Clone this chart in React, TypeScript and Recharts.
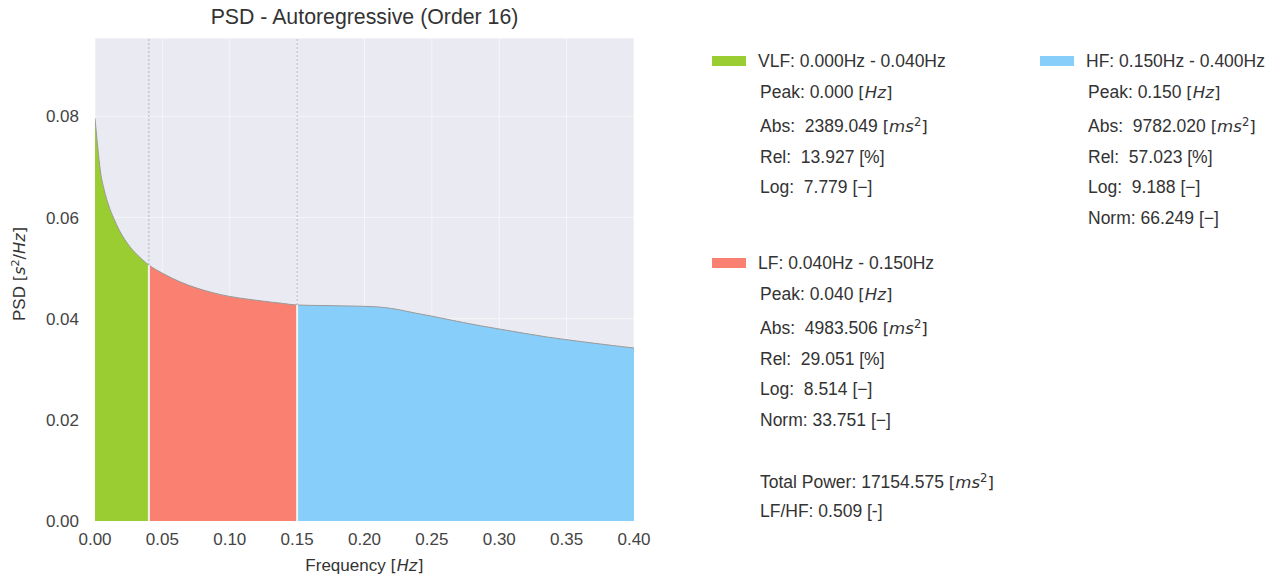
import React from 'react';
import { ComposedChart, Area, Line, XAxis, YAxis, CartesianGrid, ReferenceLine } from 'recharts';

const FONT = '"Liberation Sans", Arial, Helvetica, sans-serif';
const MATH_FONT = '"DejaVu Sans", sans-serif';

// Frequency grid [Hz] and PSD values [s^2/Hz]
const FREQS = [0, 0.002, 0.004, 0.007, 0.010, 0.014, 0.018, 0.022, 0.026, 0.030, 0.035, 0.040,
  0.050, 0.063, 0.075, 0.088, 0.100, 0.115, 0.130, 0.140, 0.150,
  0.170, 0.190, 0.205, 0.215, 0.225, 0.236, 0.250, 0.261, 0.286, 0.310, 0.335, 0.360, 0.384, 0.400];
const PSD = [0.0796, 0.0740, 0.0692, 0.0653, 0.0625, 0.0598, 0.0575, 0.0557, 0.0542, 0.0530, 0.0517, 0.0506,
  0.0490, 0.0473, 0.0461, 0.0451, 0.0444, 0.0438, 0.0433, 0.0430, 0.0427,
  0.0426, 0.0425, 0.0424, 0.0422, 0.0418, 0.0412, 0.0405, 0.0399, 0.0386, 0.0375, 0.0364, 0.0355, 0.0347, 0.0342];

const BAND_EDGES = [0, 0.04, 0.15, 0.4];
const X_TICKS = [0, 0.05, 0.1, 0.15, 0.2, 0.25, 0.3, 0.35, 0.4];
const Y_TICKS = [0, 0.02, 0.04, 0.06, 0.08];
const Y_MAX = 0.0955;

const BAND_NAMES = ['VLF', 'LF', 'HF'];
const BAND_COLORS = ['#9ACD32', '#FA8072', '#87CEFA'];
const BAND_RANGES = ['0.000Hz - 0.040Hz', '0.040Hz - 0.150Hz', '0.150Hz - 0.400Hz'];
const PEAKS = ['0.000', '0.040', '0.150'];
const ABS_POWER = ['2389.049', '4983.506', '9782.020'];
const REL_POWER = ['13.927', '29.051', '57.023'];
const LOG_POWER = ['7.779', '8.514', '9.188'];
const NORM_POWER = [null, '33.751', '66.249'];
const TOTAL_POWER = '17154.575';
const LF_HF = '0.509';

const rows = FREQS.map((f, i) => ({
  f,
  psd: PSD[i],
  vlf: f <= BAND_EDGES[1] + 1e-9 ? PSD[i] : null,
  lf: f >= BAND_EDGES[1] - 1e-9 && f <= BAND_EDGES[2] + 1e-9 ? PSD[i] : null,
  hf: f >= BAND_EDGES[2] - 1e-9 ? PSD[i] : null,
}));

const psdAt = (f: number) => PSD[FREQS.findIndex((v) => Math.abs(v - f) < 1e-9)];

const textColor = '#333';
const tickStyle = { fill: '#444', fontSize: 17, fontFamily: FONT };

const supStyle: React.CSSProperties = { fontSize: '0.7em', verticalAlign: '0.55em', lineHeight: 0 };
const Ms2 = () => (
  <span style={{ fontFamily: MATH_FONT, fontSize: '0.95em' }}>[<i>ms</i><sup style={supStyle}>2</sup>]</span>
);
const HzI = () => <span style={{ fontFamily: MATH_FONT, fontSize: '0.95em' }}>[<i>Hz</i>]</span>;

function Txt({ x, y, children, size = 17.5 }: { x: number; y: number; children: React.ReactNode; size?: number }) {
  return (
    <div style={{ position: 'absolute', left: x, top: y - 11, height: 22, lineHeight: '22px', fontSize: size, color: textColor, whiteSpace: 'pre', fontFamily: FONT }}>
      {children}
    </div>
  );
}

function BandLegend({ idx, x, y }: { idx: number; x: number; y: number }) {
  const tx = x + 46;
  const lines: React.ReactNode[] = [
    <>Peak: {PEAKS[idx]} <HzI /></>,
    <>Abs:  {ABS_POWER[idx]} <Ms2 /></>,
    <>Rel:  {REL_POWER[idx]} [%]</>,
    <>Log:  {LOG_POWER[idx]} [−]</>,
  ];
  if (NORM_POWER[idx]) lines.push(<>Norm: {NORM_POWER[idx]} [−]</>);
  const offsets = [31, 65, 96, 126, 157];
  return (
    <>
      <div style={{ position: 'absolute', left: x, top: y - 5, width: 34, height: 10, background: BAND_COLORS[idx] }} />
      <Txt x={tx} y={y}>{BAND_NAMES[idx]}: {BAND_RANGES[idx]}</Txt>
      {lines.map((l, i) => (
        <Txt key={i} x={tx + 2} y={y + offsets[i]}>{l}</Txt>
      ))}
    </>
  );
}

export default function App() {
  return (
    <div style={{ position: 'absolute', left: 0, top: 0, width: 1274, height: 582, background: '#fff', fontFamily: FONT }}>
      <ComposedChart width={1274} height={582} data={rows} margin={{ top: 38, right: 640, bottom: 21, left: 35 }}>
        <CartesianGrid fill="#EAEAF2" stroke="#ffffff" strokeOpacity={0.55} strokeWidth={1} />
        <XAxis dataKey="f" type="number" domain={[0, 0.4]} ticks={X_TICKS} tickFormatter={(v: number) => v.toFixed(2)}
          axisLine={false} tickLine={false} tickSize={0} tickMargin={12} height={40} tick={tickStyle} allowDataOverflow interval={0} />
        <YAxis type="number" domain={[0, Y_MAX]} ticks={Y_TICKS} tickFormatter={(v: number) => v.toFixed(2)}
          axisLine={false} tickLine={false} tickSize={0} tickMargin={16} width={60} tick={tickStyle} allowDataOverflow interval={0} />
        <Area dataKey="vlf" type="monotone" fill={BAND_COLORS[0]} fillOpacity={1} stroke="none" isAnimationActive={false} connectNulls={false} />
        <Area dataKey="lf" type="monotone" fill={BAND_COLORS[1]} fillOpacity={1} stroke="none" isAnimationActive={false} connectNulls={false} />
        <Area dataKey="hf" type="monotone" fill={BAND_COLORS[2]} fillOpacity={1} stroke="none" isAnimationActive={false} connectNulls={false} />
        <Line dataKey="psd" type="monotone" stroke="#9a9a9a" strokeWidth={1} dot={false} isAnimationActive={false} />
        <ReferenceLine segment={[{ x: BAND_EDGES[1], y: 0 }, { x: BAND_EDGES[1], y: psdAt(BAND_EDGES[1]) }]} stroke="#f4f4ee" strokeWidth={2} />
        <ReferenceLine segment={[{ x: BAND_EDGES[2], y: 0 }, { x: BAND_EDGES[2], y: psdAt(BAND_EDGES[2]) }]} stroke="#f4f4ee" strokeWidth={2} />
        <ReferenceLine segment={[{ x: BAND_EDGES[1], y: psdAt(BAND_EDGES[1]) }, { x: BAND_EDGES[1], y: Y_MAX }]} stroke="#aab4c8" strokeWidth={1} strokeDasharray="2 2" />
        <ReferenceLine segment={[{ x: BAND_EDGES[2], y: psdAt(BAND_EDGES[2]) }, { x: BAND_EDGES[2], y: Y_MAX }]} stroke="#aab4c8" strokeWidth={1} strokeDasharray="2 2" />
      </ComposedChart>

      <div style={{ position: 'absolute', left: 95, width: 539, top: 5, textAlign: 'center', fontSize: 21.3, color: textColor, fontFamily: FONT }}>
        PSD - Autoregressive (Order 16)
      </div>
      <div style={{ position: 'absolute', left: 95, width: 539, top: 556, textAlign: 'center', fontSize: 17, color: textColor, fontFamily: FONT }}>
        Frequency <HzI />
      </div>
      <div style={{ position: 'absolute', left: 20, top: 274, width: 0, height: 0 }}>
        <div style={{ position: 'absolute', transform: 'translate(-50%, -50%) rotate(-90deg)', whiteSpace: 'nowrap', fontSize: 17, color: textColor, fontFamily: FONT }}>
          PSD <span style={{ fontFamily: MATH_FONT, fontSize: '0.95em' }}>[<i>s</i><sup style={supStyle}>2</sup>/<i>Hz</i>]</span>
        </div>
      </div>

      <BandLegend idx={0} x={712} y={61} />
      <BandLegend idx={2} x={1040} y={61} />
      <BandLegend idx={1} x={712} y={263} />
      <Txt x={760} y={482}>Total Power: {TOTAL_POWER} <Ms2 /></Txt>
      <Txt x={760} y={511}>LF/HF: {LF_HF} [-]</Txt>
    </div>
  );
}
